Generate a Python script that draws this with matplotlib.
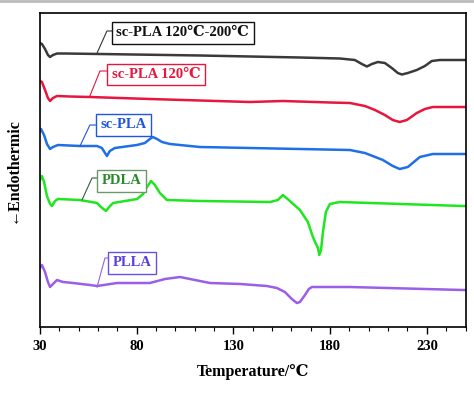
import matplotlib
matplotlib.use("Agg")
import matplotlib.pyplot as plt
from matplotlib.lines import Line2D

plt.rcParams['font.family'] = ['Liberation Serif', 'DejaVu Serif']
plt.rcParams['font.weight'] = 'bold'

# DSC curves (temperature in C, heat flow in arbitrary offset units)
t_black = [30, 31.0, 32.6, 34.1, 35.2, 36.7, 38.8, 42.9, 61.0, 112.7, 164.4, 185.0, 192.8, 196.4, 199.0,
           201.6, 204.7, 208.3, 211.9, 215.0, 217.1, 220.2, 224.8, 229.0, 232.6, 236.7, 248.6, 250]
h_black = [284, 283, 278, 272, 270, 272, 273.5, 273.5, 273, 271.5, 269.5, 268.5, 267, 263, 260.5,
           263, 265, 264, 259, 254, 252.5, 254, 257, 261, 266, 267, 267, 267]

t_red = [30, 31.0, 32.6, 34.1, 35.2, 36.7, 38.8, 45.5, 55.8, 86.8, 138.5, 155.6, 179.9, 190.2, 198.0,
         203.2, 208.3, 212.4, 216.0, 219.7, 224.8, 229.0, 233.1, 248.6, 250]
h_red = [246, 245, 237, 229, 226, 229, 231, 230.5, 230, 228, 225, 226, 224.5, 224, 221,
         217, 212, 207, 205, 207, 214, 218, 220, 220, 220]

t_blue = [30, 30.5, 32.1, 33.6, 35.2, 36.7, 39.3, 50.7, 59.5, 62.0, 64.6, 66.1, 68.7, 80.1, 84.2, 86.8,
          88.4, 90.5, 93.1, 97.2, 112.7, 164.4, 190.2, 198.0, 207.3, 212.4, 216.0, 220.2, 226.4, 233.1,
          248.6, 250]
h_blue = [196, 198, 192, 183, 178, 180, 182, 181, 181, 179, 171, 176, 179, 182, 184, 188,
          190, 188, 185, 183, 180, 178, 177, 174, 167, 161, 158, 160, 170, 173,
          173, 173]

t_green = [30, 31.0, 32.1, 33.6, 35.2, 36.2, 37.8, 39.3, 50.7, 59.5, 61.5, 64.1, 66.2, 67.8, 74.0, 80.2,
           83.3, 85.3, 87.4, 89.4, 92.0, 95.6, 112.7, 148.9, 153.0, 155.6, 159.2, 164.4, 168.5, 171.1,
           172.7, 173.7, 174.4, 175.3, 176.3, 177.8, 179.9, 185.0, 248.6, 250]
h_green = [147, 151, 145, 131, 123, 121, 126, 128, 127, 124, 120, 116, 121, 124, 126, 128,
           133, 140, 146, 142, 134, 127, 126, 125, 127, 132, 126, 117, 105, 90,
           83, 79, 72, 77, 95, 115, 123, 125, 121, 121]

t_purple = [30, 31.0, 32.6, 34.1, 35.2, 36.7, 38.8, 41.9, 47.1, 55.8, 59.5, 69.8, 81.7, 86.8, 94.6,
            102.4, 110.1, 117.9, 133.4, 147.3, 152.5, 156.6, 160.2, 162.8, 164.4, 167.0, 169.0, 170.6,
            190.2, 248.6, 250]
h_purple = [59, 62, 55, 45, 40, 43, 47, 45, 44, 42, 41, 44, 44, 44, 48,
            50, 47, 44, 43, 41, 39, 35, 28, 24, 25, 32, 38, 40,
            40, 37, 37]

x_ticks = [30, 80, 130, 180, 230]

colors = {'black': '#3a3a3a', 'red': '#e8163c', 'blue': '#1f6fe6', 'green': '#1fe61f', 'purple': '#9b5ee6'}

fig = plt.figure(figsize=(4.74, 3.93), dpi=100)
ax = fig.add_axes([40 / 474, 1 - 327 / 393, 425.5 / 474, 314 / 393])

lw = 1.8
ax.plot(t_black, h_black, color=colors['black'], lw=lw, solid_joinstyle='round')
ax.plot(t_red, h_red, color=colors['red'], lw=lw, solid_joinstyle='round')
ax.plot(t_blue, h_blue, color=colors['blue'], lw=lw, solid_joinstyle='round')
ax.plot(t_green, h_green, color=colors['green'], lw=lw, solid_joinstyle='round')
ax.plot(t_purple, h_purple, color=colors['purple'], lw=lw, solid_joinstyle='round')

ax.set_xlim(30, 250)
ax.set_ylim(0, 314)
ax.set_xticks(x_ticks)
ax.set_xticklabels([str(v) for v in x_ticks], fontsize=10.5, fontweight='bold')
ax.set_xticks(list(range(40, 251, 10)), minor=True)
ax.tick_params(axis='x', which='major', direction='out', length=5, width=1, pad=4)
ax.tick_params(axis='x', which='minor', direction='out', length=3, width=0.8)
ax.set_yticks([])
for s in ax.spines.values():
    s.set_linewidth(1.2)

ax.set_xlabel('Temperature/℃', fontsize=11.5, fontweight='bold', labelpad=8)
ax.set_ylabel('←Endothermic', fontsize=11.5, fontweight='bold', labelpad=14)


def label(text, tc, ec, lc, tx, ty, elbow, ex, ey, ly):
    ax.plot([tx - 1.5, elbow, ex], [ly, ly, ey], color=lc, lw=0.8)
    ax.text(tx, ty, text, color=tc, fontsize=10.5, fontweight='bold', ha='left', va='center',
            bbox=dict(boxstyle='square,pad=0.3', fc='white', ec=ec, lw=1.0))


label('sc-PLA 120℃-200℃', '#111111', '#111111', '#333333', 69.5, 294, 64.6, 59.5, 274, 296)
label('sc-PLA 120℃', '#e8163c', '#e8163c', '#e8163c', 67.0, 252.5, 61.0, 55.8, 231, 256)
label('sc-PLA', '#1f55e0', '#1f55e0', '#1f55e0', 61.3, 202, 55.8, 50.7, 181, 202)
label('PDLA', '#2a8a2a', '#6a9a6a', '#3a5a3a', 61.8, 146, 56.9, 51.7, 127, 149)
label('PLLA', '#5a3fe0', '#6a4fe0', '#9b5ee6', 67.5, 64, 63.6, 59.5, 40, 69)

fig.add_artist(Line2D([0, 1], [0.997, 0.997], color='#bbbbbb', lw=2, transform=fig.transFigure))

fig.savefig('out.png', dpi=100)
